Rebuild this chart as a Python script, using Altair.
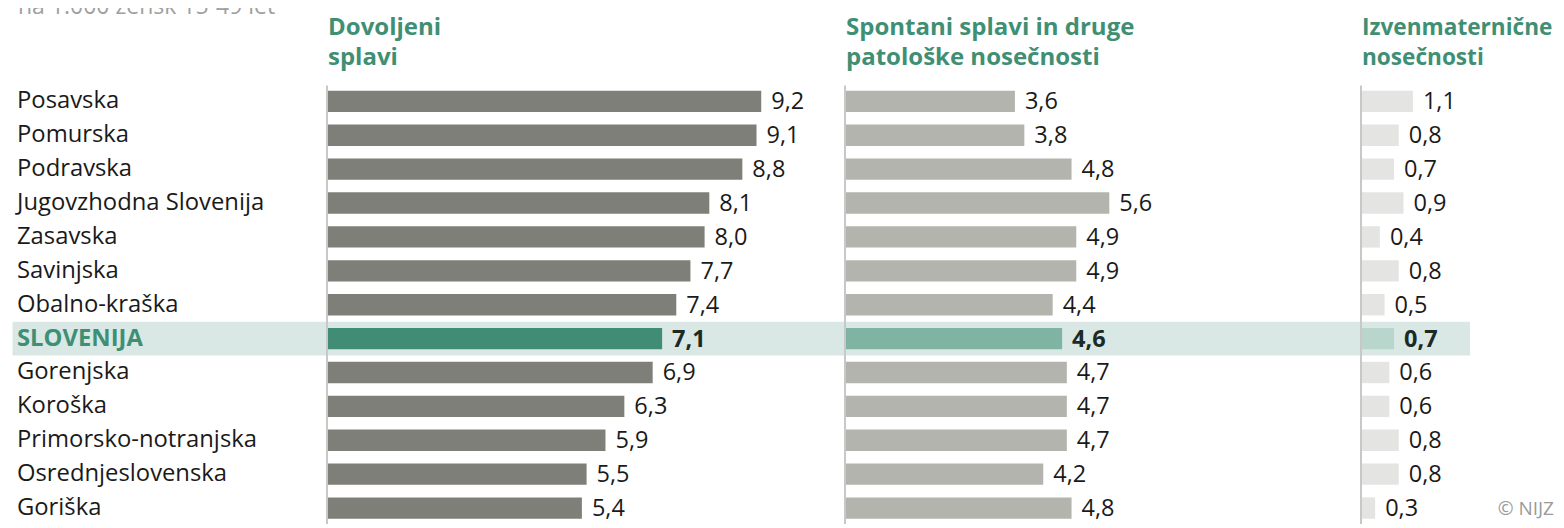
import altair as alt
import pandas as pd

regions = ["Posavska", "Pomurska", "Podravska", "Jugovzhodna Slovenija", "Zasavska",
           "Savinjska", "Obalno-kraška", "SLOVENIJA", "Gorenjska", "Koroška",
           "Primorsko-notranjska", "Osrednjeslovenska", "Goriška"]
dovoljeni = [9.2, 9.1, 8.8, 8.1, 8.0, 7.7, 7.4, 7.1, 6.9, 6.3, 5.9, 5.5, 5.4]
spontani = [3.6, 3.8, 4.8, 5.6, 4.9, 4.9, 4.4, 4.6, 4.7, 4.7, 4.7, 4.2, 4.8]
izven = [1.1, 0.8, 0.7, 0.9, 0.4, 0.8, 0.5, 0.7, 0.6, 0.6, 0.8, 0.8, 0.3]
headers = ["Dovoljeni\nsplavi", "Spontani splavi in druge\npatološke nosečnosti",
           "Izvenmaternične\nnosečnosti"]
subtitle = "na 1.000 žensk 15-49 let"
credit = "© NIJZ"
total = "SLOVENIJA"

def fmt(v):
    return f"{v:.1f}".replace(".", ",")

df = pd.DataFrame({
    "region": regions,
    "a": dovoljeni, "b": spontani, "c": izven,
    "la": [fmt(v) for v in dovoljeni],
    "lb": [fmt(v) for v in spontani],
    "lc": [fmt(v) for v in izven],
})

FONT = "Open Sans"
W, H = 1548, 520
ROW_TOP, ROW_BOTTOM = 76.4, 517.0
yscale = alt.Scale(domain=regions, range=[ROW_TOP, ROW_BOTTOM], paddingInner=0, paddingOuter=0)
Y = alt.Y("region:N", scale=yscale, axis=None)

PX_PER_UNIT = 47.2
zeros = [319, 837, 1353]
head_sizes = [24, 24, 22.6]
def xs(i):
    return alt.Scale(domain=[0, 10], range=[zeros[i], zeros[i] + 10 * PX_PER_UNIT], nice=False, zero=True)

is_tot = alt.datum.region == total
not_tot = alt.datum.region != total

base = alt.Chart(df)

band = base.transform_filter(is_tot).mark_rect(color="#d9e8e4").encode(
    y=Y, x=alt.value(4.5), x2=alt.value(1462))

labels = base.transform_filter(not_tot).mark_text(
    align="left", baseline="middle", font=FONT, fontSize=23.8, color="#1a1a1a"
).encode(y=Y, x=alt.value(9), text="region:N")
labels_tot = base.transform_filter(is_tot).mark_text(
    align="left", baseline="middle", font=FONT, fontSize=23.8, fontWeight="bold", color="#3f8f74"
).encode(y=Y, x=alt.value(9), text="region:N")

panel_cols = [("a", "la", "#7f7f79", "#418c74"),
              ("b", "lb", "#b4b4ae", "#7fb4a2"),
              ("c", "lc", "#e4e4e2", "#b9d6cd")]

layers = [band, labels, labels_tot]
for i, (f, lf, gray, green) in enumerate(panel_cols):
    X = alt.X(f"{f}:Q", scale=xs(i), axis=None)
    bars = base.mark_bar(height={"band": 0.63}).encode(
        y=Y, x=X,
        color=alt.condition(is_tot, alt.value(green), alt.value(gray)))
    vals = base.transform_filter(not_tot).mark_text(
        align="left", baseline="middle", dx=10, dy=1, font=FONT, fontSize=23.5, color="#1a1a1a"
    ).encode(y=Y, x=X, text=f"{lf}:N")
    vals_tot = base.transform_filter(is_tot).mark_text(
        align="left", baseline="middle", dx=10, dy=1, font=FONT, fontSize=23.5, fontWeight="bold",
        color="#1c2a26"
    ).encode(y=Y, x=X, text=f"{lf}:N")
    rule = alt.Chart(pd.DataFrame({f: [0]})).mark_rule(color="#c8c8c8", strokeWidth=2).encode(
        x=X, y=alt.value(ROW_TOP + 1), y2=alt.value(ROW_BOTTOM - 1))
    head = alt.Chart(pd.DataFrame({"t": [headers[i]]})).mark_text(
        align="left", baseline="alphabetic", font=FONT, fontSize=head_sizes[i], fontWeight="bold",
        color="#3f8f74", lineBreak="\n", lineHeight=30
    ).encode(x=alt.value(zeros[i] + 1), y=alt.value(26.5), text="t:N")
    layers += [bars, rule, vals, vals_tot, head]

sub = alt.Chart(pd.DataFrame({"t": [subtitle]})).mark_text(
    align="left", baseline="alphabetic", font=FONT, fontSize=23, color="#a0a0a0"
).encode(x=alt.value(10), y=alt.value(6), text="t:N")
cred = alt.Chart(pd.DataFrame({"t": [credit]})).mark_text(
    align="right", baseline="alphabetic", font=FONT, fontSize=19, color="#9a9a9a"
).encode(x=alt.value(1546), y=alt.value(507), text="t:N")
layers += [sub, cred]

chart = alt.layer(*layers).resolve_scale(x="independent").properties(
    width=W, height=H, padding=0,
    autosize=alt.AutoSizeParams(type="none"),
).configure_view(stroke=None)

chart.save("out.html", embed_options={"renderer": "svg", "actions": False})
